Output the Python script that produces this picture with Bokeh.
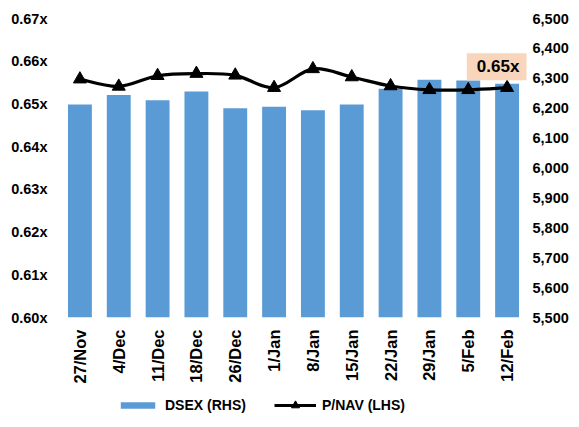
import math
from bokeh.plotting import figure
from bokeh.layouts import column
from bokeh.models import (Range1d, LinearAxis, FixedTicker, PrintfTickFormatter,
                          NumeralTickFormatter, Legend, LegendItem, Label)
from bokeh.embed import file_html
from bokeh.resources import INLINE

# ---- data ----
weeks = ["27/Nov", "4/Dec", "11/Dec", "18/Dec", "26/Dec", "1/Jan", "8/Jan",
         "15/Jan", "22/Jan", "29/Jan", "5/Feb", "12/Feb"]
dsex = [6212, 6244, 6227, 6256, 6200, 6205, 6193, 6212, 6265, 6295, 6293, 6282]
pnav = [0.6558, 0.6541, 0.6566, 0.6571, 0.6567, 0.6538, 0.6582, 0.6563,
        0.6542, 0.6533, 0.6533, 0.6538]
lhs_ticks = [0.60, 0.61, 0.62, 0.63, 0.64, 0.65, 0.66, 0.67]
rhs_ticks = [5500, 5600, 5700, 5800, 5900, 6000, 6100, 6200, 6300, 6400, 6500]
series_names = ["DSEX (RHS)", "P/NAV (LHS)"]

FONT = "Liberation Sans"
BLUE = "#5B9BD5"

xs = list(range(len(weeks)))

p = figure(width=571, height=392, output_backend="svg", toolbar_location=None,
           x_range=Range1d(-0.5, len(weeks) - 0.5),
           y_range=Range1d(lhs_ticks[0], lhs_ticks[-1]),
           min_border_left=60, min_border_right=44, min_border_top=18,
           min_border_bottom=75)
p.outline_line_color = None
p.xgrid.visible = False
p.ygrid.visible = False
p.extra_y_ranges = {"rhs": Range1d(rhs_ticks[0], rhs_ticks[-1])}

# bars (RHS)
bars = p.vbar(x=xs, top=dsex, bottom=rhs_ticks[0], width=0.615,
              fill_color=BLUE, line_color=None, y_range_name="rhs")

# smoothed line (LHS) via Catmull-Rom style bezier control points
n = len(pnav)
x0, y0, x1, y1, cx0, cy0, cx1, cy1 = [], [], [], [], [], [], [], []
for i in range(n - 1):
    im1 = max(i - 1, 0)
    ip2 = min(i + 2, n - 1)
    x0.append(xs[i]); y0.append(pnav[i])
    x1.append(xs[i + 1]); y1.append(pnav[i + 1])
    cx0.append(xs[i] + (xs[i + 1] - xs[im1]) / 6)
    cy0.append(pnav[i] + (pnav[i + 1] - pnav[im1]) / 6)
    cx1.append(xs[i + 1] - (xs[ip2] - xs[i]) / 6)
    cy1.append(pnav[i + 1] - (pnav[ip2] - pnav[i]) / 6)
p.bezier(x0=x0, y0=y0, x1=x1, y1=y1, cx0=cx0, cy0=cy0, cx1=cx1, cy1=cy1,
         line_color="black", line_width=3.2)
p.scatter(x=xs, y=pnav, marker="triangle", size=13,
          fill_color="black", line_color="black")

# axes
p.xaxis.ticker = FixedTicker(ticks=xs)
p.xaxis.major_label_overrides = {i: w for i, w in enumerate(weeks)}
p.xaxis.major_label_orientation = math.pi / 2
p.xaxis.major_label_standoff = 12

p.yaxis.ticker = FixedTicker(ticks=lhs_ticks)
p.yaxis.formatter = PrintfTickFormatter(format="%.2fx")
p.yaxis.major_label_standoff = 13

rax = LinearAxis(y_range_name="rhs", ticker=FixedTicker(ticks=rhs_ticks),
                 formatter=NumeralTickFormatter(format="0,0"))
rax.major_label_standoff = 6
p.add_layout(rax, "right")

for ax in [p.xaxis[0], p.yaxis[0], rax]:
    ax.axis_line_color = None
    ax.major_tick_line_color = None
    ax.minor_tick_line_color = None
    ax.major_tick_out = 0
    ax.major_tick_in = 0
    ax.major_label_text_font = FONT
    ax.major_label_text_font_style = "bold"
    ax.major_label_text_color = "black"
p.xaxis.major_label_text_font_size = "16.5px"
p.yaxis.major_label_text_font_size = "14.5px"
rax.major_label_text_font_size = "14.5px"

# value label
lab = Label(x=xs[-1], y=pnav[-1], text=f"{pnav[-1]:.2f}x", x_offset=-9, y_offset=21,
            text_align="center", text_baseline="middle",
            text_font=FONT, text_font_style="bold", text_font_size="17px",
            text_color="black", background_fill_color="#F8D5BB",
            padding=(10, 4))
p.add_layout(lab)

# ---- legend strip (swatch glyphs sit far outside the visible range) ----
lg = figure(width=571, height=27, output_backend="svg", toolbar_location=None,
            x_range=Range1d(0, 1), y_range=Range1d(0, 1), min_border=0,
            x_axis_location=None, y_axis_location=None)
lg.outline_line_color = None
lg.grid.visible = False
lg_bar = lg.vbar(x=[-1000], top=[-999], bottom=-1000, width=0.5,
                 fill_color=BLUE, line_color=None)
lg_line = lg.line(x=[-1000, -999], y=[-1000, -1000], line_color="black", line_width=3.2)
lg_mark = lg.scatter(x=[-1000], y=[-1000], marker="triangle", fill_color="black",
                     line_color="black")

common = dict(orientation="horizontal", label_standoff=6, padding=0, margin=0,
              border_line_color=None, background_fill_alpha=0,
              label_text_font=FONT, label_text_font_style="bold",
              label_text_color="black",
              label_text_font_size="14px", label_height=20)
leg1 = Legend(items=[LegendItem(label=series_names[0], renderers=[lg_bar])],
              location=(56, 4), glyph_width=43, glyph_height=8, **common)
leg2 = Legend(items=[LegendItem(label=series_names[1], renderers=[lg_line, lg_mark])],
              location=(214, 4), glyph_width=42, glyph_height=20, **common)
lg.add_layout(leg1, "center")
lg.add_layout(leg2, "center")

layout = column(p, lg, spacing=0)
open("out.html", "w").write(file_html(layout, INLINE))
